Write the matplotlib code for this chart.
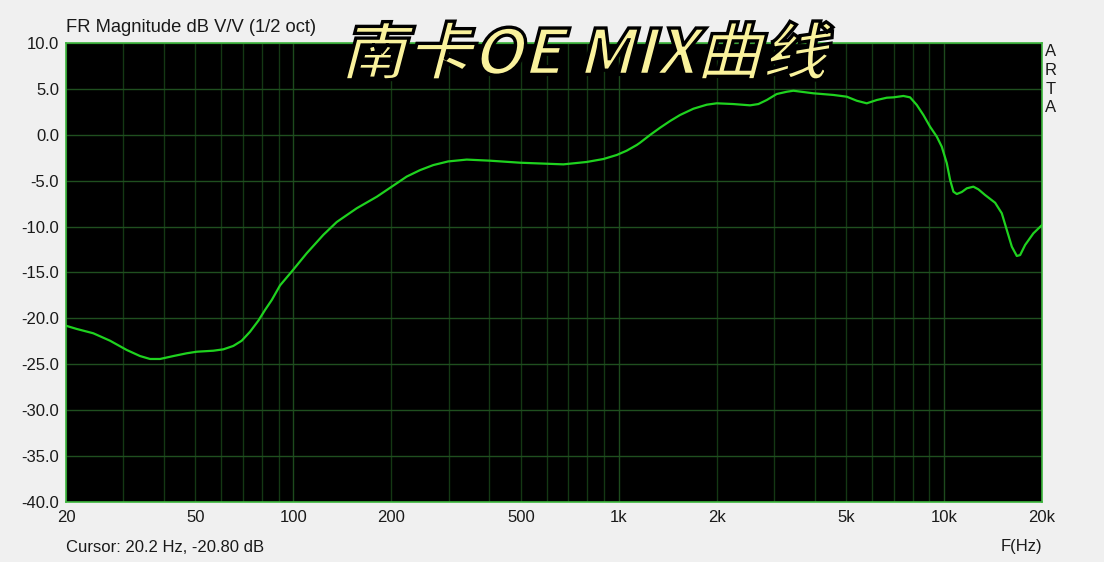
import numpy as np
import matplotlib
matplotlib.use("Agg")
import matplotlib.pyplot as plt
from matplotlib.textpath import TextPath
from matplotlib.patches import PathPatch
from matplotlib.font_manager import FontProperties
from matplotlib.transforms import Affine2D, IdentityTransform
from matplotlib.ticker import FixedLocator, NullFormatter, NullLocator

plt.rcParams['font.family'] = ['Liberation Sans', 'DejaVu Sans']

# ---- data ----
freq_hz = [20, 21.58, 24.26, 27.31, 30.74, 33.77, 36.25, 38.90, 42.77, 47.0,
           50.44, 56.75, 60.9, 65.35, 69.37, 73.58, 78.03, 81.82, 85.82,
           91.0, 98.8, 109.9, 123.6, 135.9, 156.6, 180.4, 200.6, 223, 245, 269,
           299, 341, 402, 497, 676, 797, 896.8, 986, 1058, 1136, 1163, 1248,
           1340, 1438, 1544, 1696, 1865, 2001, 2250, 2534, 2687, 2851, 3058,
           3286, 3442, 3694, 3966, 4570, 5024, 5392, 5786, 6212, 6667, 6986,
           7498, 7862, 8244, 8638, 9058, 9498, 9840, 10196, 10438, 10686, 10944,
           11338, 11746, 12306, 12750, 13370, 14352, 15046, 15590, 16156, 16734,
           17132, 17750, 18820, 20000]
mag_db = [-20.8, -21.15, -21.62, -22.43, -23.44, -24.1, -24.42, -24.42, -24.1,
          -23.8, -23.63, -23.52, -23.37, -23.0, -22.43, -21.45, -20.25, -19.08,
          -17.99,
          -16.4, -14.9, -12.9, -10.9, -9.5, -8.0, -6.75, -5.65, -4.55, -3.85,
          -3.3, -2.9, -2.7, -2.82, -3.04, -3.22, -2.96, -2.64, -2.2, -1.73,
          -1.11, -0.86, -0.02, 0.77, 1.5, 2.16, 2.84, 3.28, 3.43, 3.35, 3.21,
          3.35, 3.79, 4.44, 4.69, 4.8, 4.66, 4.52, 4.34, 4.15, 3.71, 3.43, 3.79,
          4.04, 4.08, 4.23, 4.08, 3.25, 2.16, 0.88, -0.2, -1.3, -3.1, -4.92,
          -6.2, -6.45, -6.23, -5.83, -5.65, -5.94, -6.56, -7.4, -8.55, -10.37,
          -12.19, -13.2, -13.1, -12.0, -10.73, -9.83]

x_ticks = [20, 50, 100, 200, 500, 1000, 2000, 5000, 10000, 20000]
x_tick_labels = ['20', '50', '100', '200', '500', '1k', '2k', '5k', '10k', '20k']
y_ticks = [10, 5, 0, -5, -10, -15, -20, -25, -30, -35, -40]
y_tick_labels = ['10.0', '5.0', '0.0', '-5.0', '-10.0', '-15.0', '-20.0',
                 '-25.0', '-30.0', '-35.0', '-40.0']
title_text = '南卡OE MIX曲线'

W, H = 1104, 562
fig = plt.figure(figsize=(W / 100, H / 100), dpi=100, facecolor='#f0f0f0')
ax = fig.add_axes([66 / W, 1 - 502 / H, (1042 - 66) / W, (502 - 43) / H])
ax.set_facecolor('black')
ax.set_xscale('log')
ax.set_xlim(20, 20000)
ax.set_ylim(-40, 10)

# grid
minor = [m * d for d in (10, 100, 1000, 10000) for m in range(2, 10)]
minor = [v for v in minor if 20 <= v <= 20000]
for v in minor:
    ax.axvline(v, color='#143814', lw=1, zorder=1)
for v in (100, 1000, 10000):
    ax.axvline(v, color='#1d4a1d', lw=1, zorder=1)
for v in y_ticks:
    ax.axhline(v, color='#1f4f1f', lw=1, zorder=1)

ax.plot(freq_hz, mag_db, color='#1fd21f', lw=1.6, zorder=3,
        solid_joinstyle='round', antialiased=True)

ax.xaxis.set_major_locator(FixedLocator(x_ticks))
ax.set_xticklabels(x_tick_labels)
ax.xaxis.set_minor_locator(NullLocator())
ax.xaxis.set_minor_formatter(NullFormatter())
ax.set_yticks(y_ticks)
ax.set_yticklabels(y_tick_labels)
ax.tick_params(axis='both', length=0, labelsize=12, colors='#1a1a1a')
ax.tick_params(axis='x', pad=6)
ax.tick_params(axis='y', pad=5)
for s in ax.spines.values():
    s.set_color('#3cb43c')
    s.set_linewidth(1.2)

fig.text(66 / W, 1 - 27 / H, 'FR Magnitude dB V/V (1/2 oct)', fontsize=13.2,
         color='#1a1a1a', ha='left', va='center')
fig.text(66 / W, 1 - 547 / H, 'Cursor: 20.2 Hz, -20.80 dB', fontsize=12,
         color='#1a1a1a', ha='left', va='center')
fig.text(1001 / W, 1 - 547 / H, 'F(Hz)', fontsize=12, color='#1a1a1a',
         ha='left', va='center')
for i, ch in enumerate('ARTA'):
    fig.text(1051 / W, 1 - (52 + 18.5 * i) / H, ch, fontsize=12,
             color='#1a1a1a', ha='center', va='center')

# big italic title built from a text path
fp = FontProperties(family='Noto Sans CJK SC', weight='heavy')
tp = TextPath((0, 0), title_text, size=100, prop=fp)
sk = Affine2D().skew_deg(14, 0)
p1 = sk.transform_path(tp)
e = p1.get_extents()
x0, x1 = 345, 833
ytop, ybot = 21, 80
sx = (x1 - x0) / e.width
sy = (ybot - ytop) / e.height
tr = (Affine2D().translate(-e.x0, -e.y0).scale(sx, sy)
      .translate(x0, H - ybot))
p2 = tr.transform_path(p1)
patch = PathPatch(p2, facecolor='#faf29c', edgecolor='black', lw=2.4,
                  transform=IdentityTransform(), zorder=10)
fig.add_artist(patch)

fig.savefig('out.png', dpi=100, facecolor=fig.get_facecolor())
